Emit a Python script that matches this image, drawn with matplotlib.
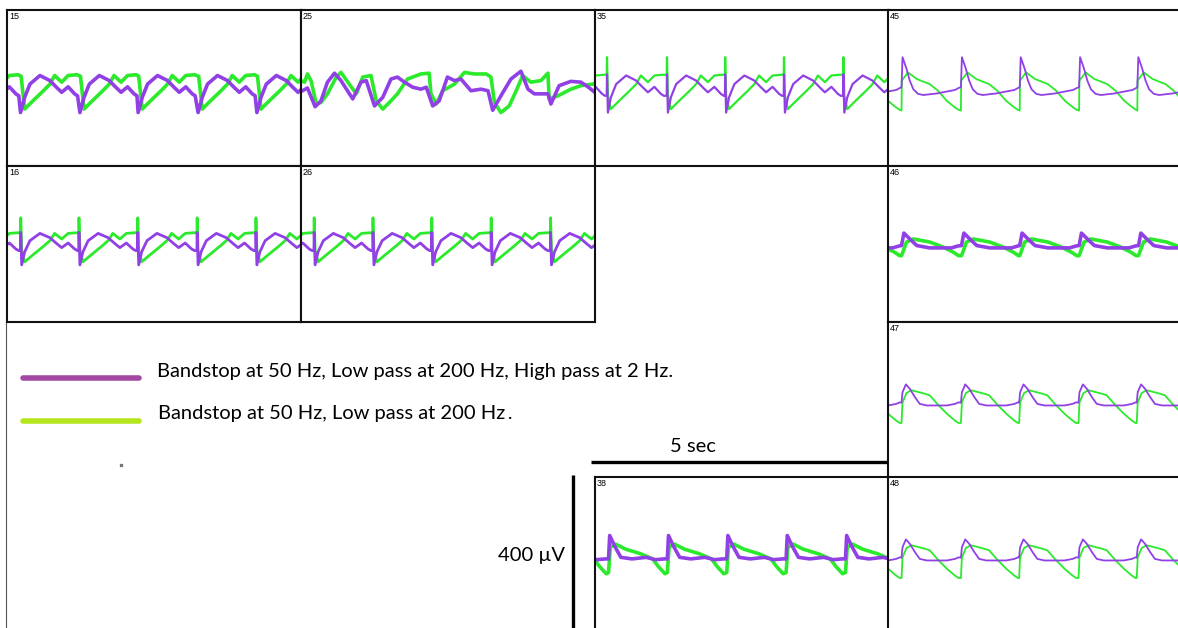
import numpy as np
import matplotlib.pyplot as plt
from matplotlib.lines import Line2D

# ---- data (time in s, voltage in uV) ----
# one-cycle templates, times relative to the cycle onset
A_t_purple = [0.0, 0.07, 0.16, 0.33, 0.50, 0.61, 0.70, 0.81, 0.92, 0.97]
A_v_purple = [-63, -24, 10, 32, 19, 2, -11, 3, -15, -20]
A_t_green = [0.01, 0.07, 0.21, 0.39, 0.50, 0.58, 0.70, 0.81, 0.96]
A_v_green = [30, -54, -33, -7, 10, 32, 15, 32, 34]

S_t_purple = [0.0, 0.004, 0.02, 0.07, 0.16, 0.33, 0.50, 0.61, 0.70, 0.81, 0.92, 0.97]
S_v_purple = [-20, 35, -63, -24, 10, 32, 19, 2, -11, 3, -15, -20]
S_t_green = [0.0, 0.004, 0.02, 0.07, 0.21, 0.39, 0.50, 0.58, 0.70, 0.81, 0.96]
S_v_green = [34, 79, -20, -54, -33, -7, 10, 32, 15, 32, 34]

B45_t_purple = [0.0, 0.017, 0.085, 0.14, 0.20, 0.28, 0.37, 0.60, 0.77, 0.91, 0.97]
B45_v_purple = [2, 79, 49, 19, -3, -15, -18, -14, -9, -5, 0]
B45_t_green = [0.0, 0.005, 0.11, 0.26, 0.48, 0.62, 0.77, 0.91, 0.97]
B45_v_green = [-58, 19, 40, 23, 10, -7, -33, -50, -56]

B47_t_purple = [0.0, 0.017, 0.074, 0.14, 0.23, 0.31, 0.43, 0.77, 0.91, 0.97]
B47_v_purple = [-7, 20, 40, 29, 7, -10, -14, -14, -10, -6]
B47_t_green = [0.0, 0.017, 0.085, 0.17, 0.40, 0.48, 0.62, 0.77, 0.91, 0.97]
B47_v_green = [-59, -6, 18, 25, 16, 12, -12, -35, -53, -59]

C46_t_purple = [0.0, 0.04, 0.14, 0.26, 0.48, 0.85, 0.96]
C46_v_purple = [-4, 28, 13, -4, -10, -10, -5]
C46_t_green = [0.0, 0.085, 0.20, 0.48, 0.71, 0.88, 0.97]
C46_v_green = [-30, 5, 13, 5, -8, -21, -30]

C38_t_purple = [0.0, 0.02, 0.10, 0.21, 0.40, 0.64, 0.80, 0.95]
C38_v_purple = [-10, 50, 24, -6, -10, -6, -12, -10]
C38_t_green = [0.0, 0.03, 0.12, 0.29, 0.55, 0.75, 0.85, 0.96]
C38_v_green = [-45, 20, 28, 15, 3, -10, -30, -48]

# cycle onsets per electrode
onsets_15 = [-0.77, 0.23, 1.24, 2.23, 3.25, 4.25]
onsets_35 = [-0.80, 0.20, 1.22, 2.21, 3.21, 4.22]
onsets_45 = [-0.77, 0.23, 1.24, 2.24, 3.25, 4.24]
onsets_16 = [-0.77, 0.23, 1.22, 2.22, 3.23, 4.23]
onsets_26 = [-0.78, 0.22, 1.22, 2.22, 3.23, 4.24]
onsets_46 = [-0.77, 0.23, 1.25, 2.24, 3.25, 4.26]
onsets_47 = [-0.77, 0.23, 1.24, 2.23, 3.24, 4.23]
onsets_38 = [-0.77, 0.23, 1.23, 2.24, 3.25, 4.26]
onsets_48 = [-0.77, 0.23, 1.24, 2.23, 3.24, 4.23]

# electrode 25 is irregular, read point by point
e25_t_purple = [0.0, 0.11, 0.24, 0.34, 0.45, 0.57, 0.68, 0.88, 1.02, 1.11, 1.25, 1.39,
                1.53, 1.64, 1.76, 1.90, 2.04, 2.13, 2.24, 2.35, 2.49, 2.61, 2.72, 2.89,
                3.06, 3.18, 3.26, 3.40, 3.57, 3.74, 3.86, 3.97, 4.20, 4.25, 4.39, 4.59,
                4.76, 4.88, 4.98]
e25_v_purple = [-9, 0, -48, -33, 15, 38, 19, -28, 15, 19, -46, -24,
                23, 28, 15, 2, -3, 2, -46, -33, 28, 19, 23, -7,
                -3, -7, -57, -20, 23, 43, -3, -15, -15, -41, 6, 17,
                15, 3, -9]
e25_t_green = [0.0, 0.06, 0.11, 0.17, 0.26, 0.34, 0.45, 0.60, 0.68, 0.82, 0.94, 1.05,
               1.19, 1.28, 1.39, 1.53, 1.64, 1.81, 2.04, 2.18, 2.21, 2.30, 2.41, 2.61,
               2.78, 2.95, 3.15, 3.23, 3.29, 3.40, 3.54, 3.66, 3.77, 3.91, 4.08, 4.20,
               4.22, 4.37, 4.59, 4.76, 4.96]
e25_v_green = [19, 15, 36, 19, -41, -37, -15, 28, 40, 10, -15, 28,
               32, -33, -54, -33, -15, 23, 36, 38, -15, -41, -7, 10,
               40, 36, 36, 28, -37, -63, -46, -7, 32, 15, 19, 38,
               -28, -20, -3, 6, 10]

labels = ["Bandstop at 50 Hz, Low pass at 200 Hz, High pass at 2 Hz.",
          "Bandstop at 50 Hz, Low pass at 200 Hz\u2009."]

PURPLE = "#9140E6"
GREEN = "#2BEA2B"
LEG_PURPLE = "#A349A4"
LEG_GREEN = "#B5E61D"

W, H = 1178, 628
COLS = [7, 301, 595, 888]
ROWS = [10, 166, 322, 477]
PW, PH = 294, 156


def build(tt, vv, onsets, gain=1.0):
    t, v = [], []
    for on in onsets:
        t.extend(on + np.asarray(tt))
        v.extend(gain * np.asarray(vv))
    return np.array(t), np.array(v)


# electrode, col, row, purple (t, v), green (t, v), line width
panels = [
    ("15", 0, 0, build(A_t_purple, A_v_purple, onsets_15), build(A_t_green, A_v_green, onsets_15), 2.6),
    ("25", 1, 0, (e25_t_purple, e25_v_purple), (e25_t_green, e25_v_green), 2.6),
    ("35", 2, 0, build(S_t_purple, S_v_purple, onsets_35), build(S_t_green, S_v_green, onsets_35), 1.6),
    ("45", 3, 0, build(B45_t_purple, B45_v_purple, onsets_45), build(B45_t_green, B45_v_green, onsets_45), 1.3),
    ("16", 0, 1, build(S_t_purple, S_v_purple, onsets_16, 0.85), build(S_t_green, S_v_green, onsets_16, 0.85), 2.0),
    ("26", 1, 1, build(S_t_purple, S_v_purple, onsets_26, 0.85), build(S_t_green, S_v_green, onsets_26, 0.85), 2.0),
    ("46", 3, 1, build(C46_t_purple, C46_v_purple, onsets_46), build(C46_t_green, C46_v_green, onsets_46), 2.6),
    ("47", 3, 2, build(B47_t_purple, B47_v_purple, onsets_47), build(B47_t_green, B47_v_green, onsets_47), 1.3),
    ("38", 2, 3, build(C38_t_purple, C38_v_purple, onsets_38), build(C38_t_green, C38_v_green, onsets_38), 2.6),
    ("48", 3, 3, build(B47_t_purple, B47_v_purple, onsets_48), build(B47_t_green, B47_v_green, onsets_48), 1.3),
]

fig = plt.figure(figsize=(W / 100, H / 100), dpi=100)

overlay = fig.add_axes([0, 0, 1, 1])
overlay.set_xlim(0, W)
overlay.set_ylim(H, 0)
overlay.axis("off")

axes = {}
for name, c, r, (tp, vp), (tg, vg), lw in panels:
    x, y = COLS[c], ROWS[r]
    ax = fig.add_axes([x / W, 1 - (y + PH) / H, PW / W, PH / H])
    ax.plot(tg, vg, color=GREEN, lw=lw, solid_joinstyle="round")
    ax.plot(tp, vp, color=PURPLE, lw=lw, solid_joinstyle="round")
    ax.set_xlim(0, 5)
    ax.set_ylim(-200, 200)
    ax.set_xticks([])
    ax.set_yticks([])
    for s in ax.spines.values():
        s.set_linewidth(1.5)
        s.set_color("#111111")
    ax.text(0.007, 0.985, name, transform=ax.transAxes, va="top", ha="left",
            fontsize=6.5, family="Liberation Sans")
    axes[name] = ax

# scale bars drawn in data units of electrode 38
ax38 = axes["38"]
ax38.plot([-0.06, 4.97], [238, 238], color="black", lw=2.4, clip_on=False, solid_capstyle="butt")
ax38.plot([-0.37, -0.37], [-200, 205], color="black", lw=2.4, clip_on=False, solid_capstyle="butt")

overlay.text(693, 447, "5 sec", ha="center", va="center", fontsize=14.5, family="Lato")
overlay.text(565, 555, "400 \u00b5V", ha="right", va="center", fontsize=14.5, family="Lato")

# legend
overlay.add_line(Line2D([23, 139], [378, 378], color=LEG_PURPLE, lw=4, solid_capstyle="round"))
overlay.add_line(Line2D([23, 139], [421, 421], color=LEG_GREEN, lw=4, solid_capstyle="round"))
overlay.text(157, 371, labels[0], ha="left", va="center", fontsize=14.5, family="Lato")
overlay.text(158, 414, labels[1], ha="left", va="center", fontsize=14.5, family="Lato")

# thin left frame line and stray dot
overlay.add_line(Line2D([6, 6], [322, 628], color="#555555", lw=0.8))
overlay.plot([121], [465], marker="s", ms=1.5, color="#777777")

fig.savefig("out.png", dpi=100)
